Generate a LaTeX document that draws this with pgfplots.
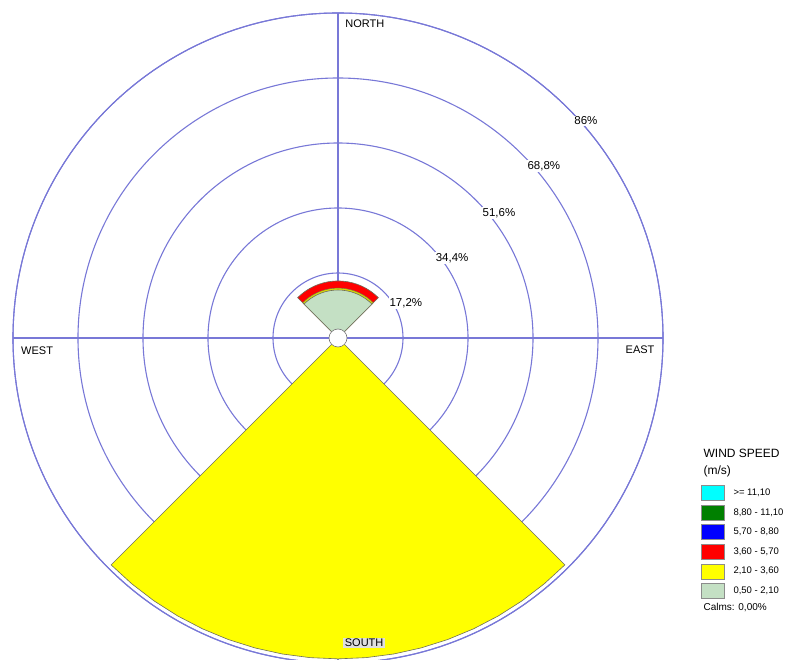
\documentclass[border=0pt]{standalone}
\usepackage{fontspec}
\setmainfont{Liberation Sans}
\usepackage{pgfplots}
\pgfplotsset{compat=1.18}
\usepgfplotslibrary{polar}
\definecolor{gridc}{RGB}{120,120,215}
\definecolor{ws1}{RGB}{0,255,255}
\definecolor{ws2}{RGB}{0,128,0}
\definecolor{ws3}{RGB}{0,0,255}
\definecolor{ws4}{RGB}{255,0,0}
\definecolor{ws5}{RGB}{255,255,0}
\definecolor{ws6}{RGB}{196,224,196}
\definecolor{edge}{RGB}{110,110,90}
\begin{document}
\begin{tikzpicture}
\begin{polaraxis}[
  width=650pt, height=650pt, scale only axis, clip=false,
  ymin=0, ymax=86,
  xtick={0,90,180,270}, ytick={17.2,34.4,51.6,68.8,86},
  xticklabels={}, yticklabels={},
  major tick length=0pt,
  grid=major,
  major grid style={gridc, line width=1.1pt},
  axis line style={gridc, line width=1.1pt},
  legend style={draw=none, fill=none, inner sep=0pt, at={(1.058,0.274)}, anchor=north west,
    font=\fontsize{9.5}{11}\selectfont, row sep=4pt, column sep=9pt, nodes={inner sep=0pt},
    cells={anchor=west}},
  legend image code/.code={\draw[#1, draw=black!45, line width=0.6pt] (0pt,-7.5pt) rectangle (23pt,7.5pt);},
]
\addlegendimage{fill=ws1}
\addlegendentry{>= 11,10}
\addlegendimage{fill=ws2}
\addlegendentry{8,80 - 11,10}
\addlegendimage{fill=ws3}
\addlegendentry{5,70 - 8,80}
\addlegendimage{fill=ws4}
\addlegendentry{3,60 - 5,70}
\addlegendimage{fill=ws5}
\addlegendentry{2,10 - 3,60}
\addlegendimage{fill=ws6}
\addlegendentry{0,50 - 2,10}

% SOUTH sector: 2.10-3.60 (cumulative 84.9)
\addplot[fill=ws5, draw=edge, line width=0.6pt, forget plot] coordinates {(0,0) (225,84.9) (230,84.9) (235,84.9) (240,84.9) (245,84.9) (250,84.9) (255,84.9) (260,84.9) (265,84.9) (270,84.9) (275,84.9) (280,84.9) (285,84.9) (290,84.9) (295,84.9) (300,84.9) (305,84.9) (310,84.9) (315,84.9)} -- cycle;
% NORTH sector: 3.60-5.70 (cumulative 15.1)
\addplot[fill=ws4, draw=edge, line width=0.6pt, forget plot] coordinates {(0,0) (45,15.1) (50,15.1) (55,15.1) (60,15.1) (65,15.1) (70,15.1) (75,15.1) (80,15.1) (85,15.1) (90,15.1) (95,15.1) (100,15.1) (105,15.1) (110,15.1) (115,15.1) (120,15.1) (125,15.1) (130,15.1) (135,15.1)} -- cycle;
% NORTH sector: 2.10-3.60 (cumulative 13.2)
\addplot[fill=ws5!70!olive, draw=edge, line width=0.4pt, forget plot] coordinates {(0,0) (45,13.2) (50,13.2) (55,13.2) (60,13.2) (65,13.2) (70,13.2) (75,13.2) (80,13.2) (85,13.2) (90,13.2) (95,13.2) (100,13.2) (105,13.2) (110,13.2) (115,13.2) (120,13.2) (125,13.2) (130,13.2) (135,13.2)} -- cycle;
% NORTH sector: 0.50-2.10 (12.7)
\addplot[fill=ws6, draw=edge, line width=0.6pt, forget plot] coordinates {(0,0) (45,12.7) (50,12.7) (55,12.7) (60,12.7) (65,12.7) (70,12.7) (75,12.7) (80,12.7) (85,12.7) (90,12.7) (95,12.7) (100,12.7) (105,12.7) (110,12.7) (115,12.7) (120,12.7) (125,12.7) (130,12.7) (135,12.7)} -- cycle;
% Calms circle
\addplot[only marks, mark=*, mark size=9pt, mark options={fill=white, draw=black!55, line width=0.6pt}, forget plot] coordinates {(0,0)};

\coordinate (C) at (axis cs:0,0);
% radial labels
\node[fill=white, inner sep=1pt, font=\fontsize{11.5}{12}\selectfont] at (axis cs:27.2,20.2) {17,2\%};
\node[fill=white, inner sep=1pt, font=\fontsize{11.5}{12}\selectfont] at (axis cs:35.1,36.9) {34,4\%};
\node[fill=white, inner sep=1pt, font=\fontsize{11.5}{12}\selectfont] at (axis cs:37.8,53.9) {51,6\%};
\node[fill=white, inner sep=1pt, font=\fontsize{11.5}{12}\selectfont] at (axis cs:39.9,71.0) {68,8\%};
\node[fill=white, inner sep=1pt, font=\fontsize{11.5}{12}\selectfont] at (axis cs:41.2,87.2) {86\%};
% direction labels
\node[font=\fontsize{11}{12}\selectfont] at (axis cs:85.1,83.4) {NORTH};
\node[font=\fontsize{11}{12}\selectfont] at (axis cs:182.5,79.7) {WEST};
\node[font=\fontsize{11}{12}\selectfont] at (axis cs:357.7,80.0) {EAST};
\node[font=\fontsize{11}{12}\selectfont, fill=black!13, inner sep=1.5pt] at (axis cs:274.9,81.0) {SOUTH};
% legend title and calms
\node[anchor=west, font=\fontsize{12}{13}\selectfont] at (axis description cs:1.057,0.323) {WIND SPEED};
\node[anchor=west, font=\fontsize{12}{13}\selectfont] at (axis description cs:1.057,0.295) {(m/s)};
\node[anchor=west, font=\fontsize{10}{11}\selectfont] at (axis description cs:1.057,0.086) {Calms: 0,00\%};
\end{polaraxis}
\pgfresetboundingbox
\path[use as bounding box] ([shift={(-338pt,-321pt)}]C) rectangle ([shift={(454pt,338pt)}]C);
\end{tikzpicture}
\end{document}
